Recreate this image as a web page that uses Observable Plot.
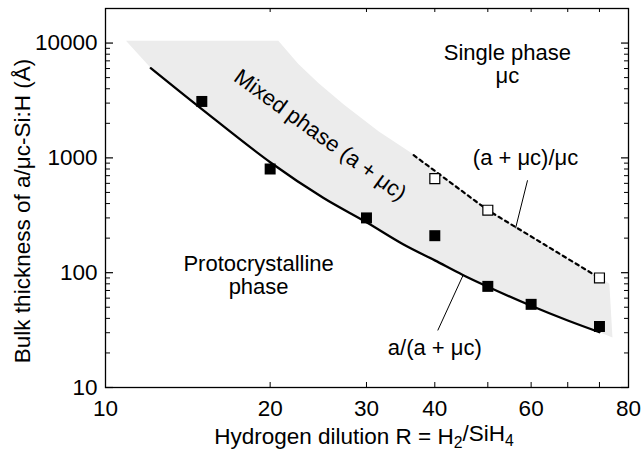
<!DOCTYPE html>
<html>
<head>
<meta charset="utf-8">
<script src="https://cdn.jsdelivr.net/npm/d3@7"></script>
<script src="https://cdn.jsdelivr.net/npm/@observablehq/plot@0.6"></script>
<style>
  body { margin: 0; background: #fff; }
  #chart svg { display: block; }
</style>
</head>
<body>
<div id="chart"></div>
<script>
// Phase diagram of a-Si:H / μc-Si:H growth: bulk layer thickness vs H2 dilution

// a → (a + μc) transition, measured (filled squares)
const filledR = [15, 20, 30, 40, 50, 60, 80];
const filledT = [3100, 800, 300, 210, 76, 53, 34];

// (a + μc) → μc transition, measured (open squares)
const openR = [40, 50, 80];
const openT = [660, 350, 90];

// a/(a + μc) boundary curve
const lowerR = [12.1, 15, 20, 25, 30, 35, 40, 45, 50, 60, 70, 80];
const lowerT = [6050, 2660, 917, 450, 275, 177, 128, 95.6, 75.5, 51.5, 38.3, 30.3];

// (a + μc)/μc boundary (dotted)
const upperR = [36.6, 50, 80];
const upperT = [1055, 350, 90];

// outline of the shaded mixed-phase band (upper edge, right end)
const bandTopR = [10.9, 20.7, 22.5, 24.5, 27.3, 31.6, 36.6, 50, 80, 83.4, 84.5];
const bandTopT = [10500, 10500, 6600, 4500, 2900, 1700, 1070, 355, 92, 80, 27.3];

// axis ticks
const xTicks = [20, 30, 40, 50, 60, 70, 80];
const xTickLabels = [10, 20, 30, 40, 60];
const xEndLabel = "80";
const yMajor = [10, 100, 1000, 10000];
const yMinor = [10, 100, 1000].flatMap(d => [2, 3, 4, 5, 6, 7, 8, 9].map(k => k * d));

const xDomain = [10, 90.4];
const yDomain = [10, 20000];

const W = 644, H = 462;
const mL = 105, mR = 16, mT = 8, mB = 75;
const plotW = W - mL - mR, plotH = H - mT - mB;
const FS_TICK = 22.5, FS_TITLE = 22.5, FS_NOTE = 22;
const FONT = "'Liberation Sans', Arial, Helvetica, sans-serif";

const zip = (xs, ys) => xs.map((x, i) => ({x, y: ys[i]}));
const filled = zip(filledR, filledT);
const open = zip(openR, openT);
const lower = zip(lowerR, lowerT);
const upper = zip(upperR, upperT);
const band = [...zip(bandTopR, bandTopT), ...lower.slice().reverse()];

const annotations = [
  {x: 54.3, y: 6600, text: "Single phase\nμc"},
  {x: 58.6, y: 1015, text: "(a + μc)/μc"},
  {x: 19.05, y: 95, text: "Protocrystalline\nphase"},
  {x: 40, y: 22.3, text: "a/(a + μc)"}
];
const leaders = [
  {x1: 59.1, y1: 638, x2: 56.2, y2: 244},
  {x1: 45.1, y1: 96, x2: 40.5, y2: 31.4}
];

const chart = Plot.plot({
  width: W,
  height: H,
  marginLeft: mL,
  marginRight: mR,
  marginTop: mT,
  marginBottom: mB,
  style: {fontFamily: FONT, fontSize: FS_TICK + "px", color: "#000", background: "#fff"},
  x: {type: "log", domain: xDomain},
  y: {type: "log", domain: yDomain},
  marks: [
    // shaded mixed-phase region
    Plot.line(band, {x: "x", y: "y", fill: "#ececec", stroke: "none"}),
    // phase boundaries
    Plot.line(lower, {x: "x", y: "y", stroke: "#000", strokeWidth: 2.3, curve: "catmull-rom"}),
    Plot.line(upper, {x: "x", y: "y", stroke: "#000", strokeWidth: 2.2, strokeDasharray: "3.5,4"}),
    // leader lines for the boundary labels
    Plot.link(leaders, {x1: "x1", y1: "y1", x2: "x2", y2: "y2", stroke: "#000", strokeWidth: 1}),
    // measured transitions
    Plot.dot(filled, {x: "x", y: "y", symbol: "square", r: 6.2, fill: "#000", stroke: "none"}),
    Plot.dot(open, {x: "x", y: "y", symbol: "square", r: 5.6, fill: "#fff", stroke: "#000", strokeWidth: 1.2}),
    // region labels
    Plot.text(annotations, {x: "x", y: "y", text: "text", fontSize: FS_NOTE, fill: "#000", lineHeight: 1.05}),
    Plot.text(["Mixed phase (a + μc)"], {x: () => 24.7, y: () => 1580, rotate: 36, fontSize: FS_NOTE, fill: "#000"}),
    // frame and inward ticks
    Plot.frame({stroke: "#000", strokeWidth: 1.3}),
    Plot.tickY(yMajor, {y: d => d, insetRight: plotW - 8, stroke: "#000", strokeWidth: 1.2}),
    Plot.tickY(yMinor, {y: d => d, insetRight: plotW - 5, stroke: "#000", strokeWidth: 1}),
    Plot.tickY(yMajor, {y: d => d, insetLeft: plotW - 7, stroke: "#000", strokeWidth: 1.2}),
    Plot.tickY(yMinor, {y: d => d, insetLeft: plotW - 4, stroke: "#000", strokeWidth: 1}),
    Plot.tickX(xTicks, {x: d => d, insetTop: plotH - 5, stroke: "#000", strokeWidth: 1}),
    Plot.tickX(xTicks, {x: d => d, insetBottom: plotH - 4, stroke: "#000", strokeWidth: 1}),
    // tick labels
    Plot.axisY({ticks: yMajor, tickFormat: d => String(d), tickSize: 0, tickPadding: 8, fontSize: FS_TICK, label: null}),
    Plot.axisX({ticks: xTickLabels, tickFormat: d => String(d), tickSize: 0, tickPadding: 13, fontSize: FS_TICK, label: null}),
    Plot.text([xDomain[1]], {x: d => d, text: () => xEndLabel, frameAnchor: "bottom", lineAnchor: "top", dy: 13, fontSize: FS_TICK, fill: "#000"}),
    // axis titles
    Plot.text(["Bulk thickness of a/μc-Si:H (Å)"], {text: d => d, frameAnchor: "left", textAnchor: "middle", rotate: -90, dx: -83, dy: 13, fontSize: FS_TITLE, fill: "#000"}),
    Plot.text(["Hydrogen dilution R = H2/SiH4"], {text: d => d, frameAnchor: "bottom", dx: -3, dy: 56, fontSize: FS_TITLE, fill: "#000", className: "xtitle"})
  ]
});

document.getElementById("chart").appendChild(chart);

// typeset the subscripts in the x-axis title
d3.select(chart).selectAll(".xtitle text").each(function () {
  const t = d3.select(this);
  t.text(null);
  t.append("tspan").text("Hydrogen dilution R = H");
  t.append("tspan").attr("dy", "0.3em").attr("font-size", "0.7em").text("2");
  t.append("tspan").attr("dy", "-0.3em").text("/SiH");
  t.append("tspan").attr("dy", "0.3em").attr("font-size", "0.7em").text("4");
});
</script>
</body>
</html>
